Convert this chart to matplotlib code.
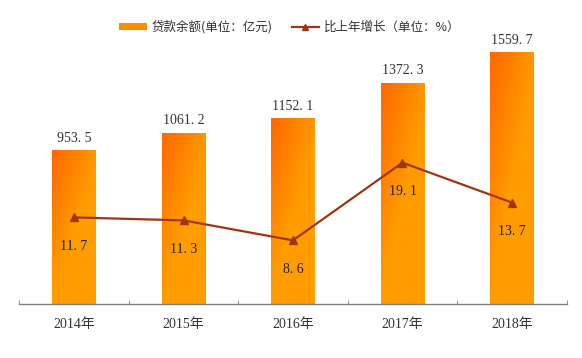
import numpy as np
import matplotlib
matplotlib.use("Agg")
import matplotlib.pyplot as plt
from matplotlib.lines import Line2D
from matplotlib.patches import Patch
from matplotlib.colors import to_rgb

years = ["2014年", "2015年", "2016年", "2017年", "2018年"]
loans = [953.5, 1061.2, 1152.1, 1372.3, 1559.7]
growth = [11.7, 11.3, 8.6, 19.1, 13.7]
legend_labels = ["贷款余额(单位：亿元)", "比上年增长（单位：%）"]

serif = ["Liberation Serif", "Noto Sans CJK SC", "DejaVu Sans"]
cjk = ["Noto Sans CJK SC", "DejaVu Sans"]
line_color = "#A0360C"
dark = np.array(to_rgb("#FF6A00"))
light = np.array(to_rgb("#FF9C00"))

W, H = 582, 358
fig = plt.figure(figsize=(W / 100, H / 100), dpi=100)
left, right = 19.3, 566.7
bottom_px, top_px = 304, 13.5
ax = fig.add_axes([left / W, 1 - bottom_px / H, (right - left) / W, (bottom_px - top_px) / H])

x = np.arange(len(years))
bw = 0.397
bars = ax.bar(x, loans, width=bw, color="#FF9900", edgecolor="none", zorder=2)

# gradient fill for bars
ny, nx = 100, 40
xf = np.linspace(0, 1, nx)[None, :]
yf = np.linspace(1, 0, ny)[:, None]
t = np.clip(xf * 0.9 + (1 - yf) * 1.1 - 0.05, 0, 1)
img = dark[None, None, :] * (1 - t[..., None]) + light[None, None, :] * t[..., None]
for b in bars:
    x0, y0 = b.get_x(), b.get_y()
    im = ax.imshow(img, extent=[x0, x0 + b.get_width(), y0, y0 + b.get_height()],
                   aspect="auto", zorder=2, interpolation="bilinear")
    im.set_clip_path(b)

for xi, v in zip(x, loans):
    ax.annotate(f"{v:.1f}".replace(".", ". "), (xi, v), xytext=(0, 4), textcoords="offset points",
                ha="center", va="bottom", fontsize=10, color="#333333", family=serif)

ax.set_xlim(-0.5, len(years) - 0.5)
ax.set_ylim(0, 1800)
ax.set_yticks([])
for s in ["top", "right", "left"]:
    ax.spines[s].set_visible(False)
ax.spines["bottom"].set_color("#808080")
ax.spines["bottom"].set_linewidth(1)
ax.set_xticks(x)
ax.set_xticklabels(years, family=serif, fontsize=10, color="#333333")
ax.tick_params(axis="x", which="major", length=0, pad=10)
ax.set_xticks(np.arange(-0.5, len(years), 1), minor=True)
ax.tick_params(axis="x", which="minor", direction="in", length=3, color="#808080")

ax2 = ax.twinx()
ax2.set_ylim(0, 290.5 / 7.4)
ax2.plot(x, growth, color=line_color, lw=1.6, marker="^", markersize=6, zorder=3)
for xi, v in zip(x, growth):
    ax2.annotate(f"{v:.1f}".replace(".", ". "), (xi, v), xytext=(0, -21), textcoords="offset points",
                 ha="center", va="center", fontsize=10, color="#222222", family=serif)
ax2.set_yticks([])
for s in ["top", "right", "left", "bottom"]:
    ax2.spines[s].set_visible(False)

handles = [Patch(facecolor="#FF8C00", edgecolor="none"),
           Line2D([0], [0], color=line_color, lw=1.6, marker="^", markersize=5)]
leg = fig.legend(handles, legend_labels, ncol=2, loc="center", bbox_to_anchor=(290 / W, 1 - 27 / H),
                 frameon=False, prop={"family": cjk, "size": 9}, handlelength=2.2,
                 handleheight=0.45, columnspacing=1.5, handletextpad=0.4)
for txt in leg.get_texts():
    txt.set_color("#333333")

fig.savefig("out.png", dpi=100)
